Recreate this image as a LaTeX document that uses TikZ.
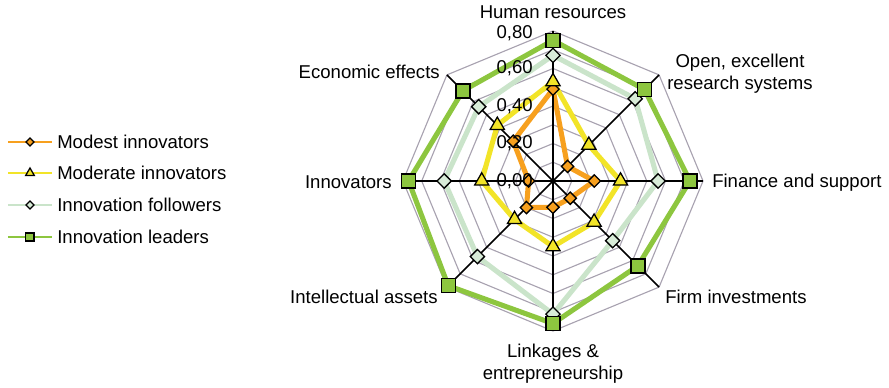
\documentclass[tikz,border=0pt]{standalone}
\usepackage{fontspec}
\setmainfont{Liberation Sans}
\usetikzlibrary{shapes.geometric}

\definecolor{leadgreen}{RGB}{141,198,63}
\definecolor{follgreen}{RGB}{202,228,202}
\definecolor{follfill}{RGB}{216,236,216}
\definecolor{modyellow}{RGB}{242,228,40}
\definecolor{modorange}{RGB}{247,160,30}
\definecolor{gridgray}{RGB}{168,162,176}

\tikzset{
	lbl/.style={inner sep=0pt, font=\fontsize{13.2}{15.6}\selectfont, align=center},
	gridline/.style={gridgray, line width=0.8pt, line join=round},
	axisline/.style={black, line width=1.1pt},
	modestline/.style={modorange, line width=3.6pt, line join=round},
	modline/.style={modyellow, line width=3.6pt, line join=round},
	follline/.style={follgreen, line width=3.6pt, line join=round},
	leadline/.style={leadgreen, line width=3.6pt, line join=round},
	modestmark/.style={diamond, draw=black, fill=modorange, line width=0.9pt, minimum size=0.32cm, inner sep=0pt},
	modmark/.style={regular polygon, regular polygon sides=3, draw=black, fill=modyellow, line width=0.9pt, minimum size=0.41cm, inner sep=0pt},
	follmark/.style={diamond, draw=black, fill=follfill, line width=0.9pt, minimum size=0.37cm, inner sep=0pt},
	leadmark/.style={rectangle, draw=black, fill=leadgreen, line width=1pt, minimum size=0.35cm, inner sep=0pt}
}

\begin{document}
\begin{tikzpicture}[x=0.025cm, y=0.025cm]
	\useasboundingbox (-553,-207) rectangle (336,181);

	\begin{scope}[x=4.6875cm, y=4.6875cm]
		\coordinate (o) at (0,0);
		\foreach \i in {1,...,8}
			\coordinate (a\i) at ({135-45*\i}:0.8);

		% grid, one octagon every 0,10
		\foreach \k in {1,...,8}
			\draw[gridline] (90:{\k/10}) \foreach \j in {1,...,7} {-- ({90-45*\j}:{\k/10})} -- cycle;

		% values, clockwise from human resources
		\foreach \v [count=\i] in {0.49,0.11,0.22,0.13,0.14,0.20,0.13,0.30}
			\coordinate (S\i) at ({135-45*\i}:\v);
		\foreach \v [count=\i] in {0.53,0.27,0.36,0.31,0.35,0.29,0.38,0.42}
			\coordinate (M\i) at ({135-45*\i}:\v);
		\foreach \v [count=\i] in {0.67,0.62,0.56,0.45,0.71,0.57,0.58,0.56}
			\coordinate (F\i) at ({135-45*\i}:\v);
		\foreach \v [count=\i] in {0.75,0.69,0.73,0.64,0.76,0.79,0.77,0.68}
			\coordinate (L\i) at ({135-45*\i}:\v);

		\draw[modestline] (S1) \foreach \i in {2,...,8} {-- (S\i)} -- cycle;
		\draw[modline] (M1) \foreach \i in {2,...,8} {-- (M\i)} -- cycle;
		\draw[follline] (F1) \foreach \i in {2,...,8} {-- (F\i)} -- cycle;
		\draw[leadline] (L1) \foreach \i in {2,...,8} {-- (L\i)} -- cycle;

		\foreach \i in {1,...,8}
			\draw[axisline] (o) -- (a\i);

		\foreach \i in {1,...,8} {
			\node[modestmark] (mS\i) at (S\i) {};
			\node[modmark] (mM\i) at (M\i) {};
			\node[follmark] (mF\i) at (F\i) {};
			\node[leadmark] (mL\i) at (L\i) {};
		}
	\end{scope}

	% scale
	\node[lbl, anchor=east] (v0) at (-20,0) {0,00};
	\node[lbl, anchor=east] (v1) at (-20,37.5) {0,20};
	\node[lbl, anchor=east] (v2) at (-20,75) {0,40};
	\node[lbl, anchor=east] (v3) at (-20,112.5) {0,60};
	\node[lbl, anchor=east] (v4) at (-20,148) {0,80};

	% axis names
	\node[lbl] (hr) at (0,169) {Human resources};
	\node[lbl] (ores) at (187,107) {Open, excellent\\research systems};
	\node[lbl, anchor=west] (fin) at (159,-2) {Finance and support};
	\node[lbl, anchor=west] (firm) at (112,-116) {Firm investments};
	\node[lbl] (link) at (0,-183) {Linkages \&\\entrepreneurship};
	\node[lbl, anchor=east] (ip) at (-115,-116) {Intellectual assets};
	\node[lbl, anchor=east] (inno) at (-161,-1) {Innovators};
	\node[lbl, anchor=east] (econ) at (-113,109) {Economic effects};

	% legend
	\coordinate (k1a) at (-545,39); \coordinate (k1b) at (-501,39);
	\coordinate (k2a) at (-545,8); \coordinate (k2b) at (-501,8);
	\coordinate (k3a) at (-545,-24); \coordinate (k3b) at (-501,-24);
	\coordinate (k4a) at (-545,-56); \coordinate (k4b) at (-501,-56);
	\draw[modestline, line width=2pt] (k1a) -- (k1b);
	\draw[modline, line width=2pt] (k2a) -- (k2b);
	\draw[follline, line width=2pt] (k3a) -- (k3b);
	\draw[leadline, line width=2pt] (k4a) -- (k4b);
	\node[modestmark, minimum size=0.21cm] (k1m) at (-523,39) {};
	\node[modmark, minimum size=0.25cm] (k2m) at (-523,8) {};
	\node[follmark, minimum size=0.21cm] (k3m) at (-523,-24) {};
	\node[leadmark, minimum size=0.21cm] (k4m) at (-523,-56) {};
	\node[lbl, anchor=west] (k1) at (-496,39) {Modest innovators};
	\node[lbl, anchor=west] (k2) at (-496,8) {Moderate innovators};
	\node[lbl, anchor=west] (k3) at (-496,-24) {Innovation followers};
	\node[lbl, anchor=west] (k4) at (-496,-56) {Innovation leaders};
\end{tikzpicture}
\end{document}
